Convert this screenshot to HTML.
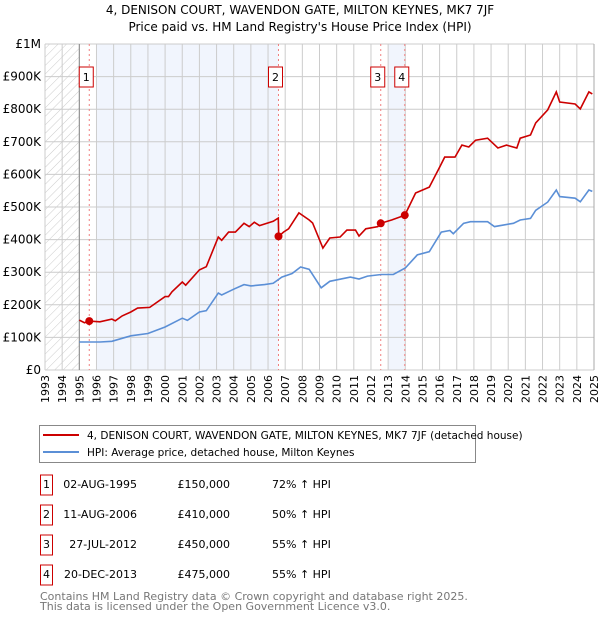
<!DOCTYPE html>
<html><head><meta charset="utf-8"><style>
body{margin:0;background:#fff;font-family:"Liberation Sans","DejaVu Sans",sans-serif;}
svg text{font-family:"DejaVu Sans","Liberation Sans",sans-serif;}
</style></head><body>
<svg id="chart" width="600" height="620" xmlns="http://www.w3.org/2000/svg">
<defs><pattern id="hatch" width="6" height="6" patternUnits="userSpaceOnUse" patternTransform="rotate(45)"><line x1="0" y1="0" x2="0" y2="6" stroke="#ccc" stroke-width="1"/></pattern></defs>
<text x="300" y="14" text-anchor="middle" font-size="12">4, DENISON COURT, WAVENDON GATE, MILTON KEYNES, MK7 7JF</text>
<text x="300" y="31" text-anchor="middle" font-size="12">Price paid vs. HM Land Registry's House Price Index (HPI)</text>
<g id="plot"></g>
<g>
<rect x="39.5" y="425.5" width="436" height="37" fill="#fff" stroke="#888"/>
<line x1="43" y1="435" x2="79" y2="435" stroke="#cc0000" stroke-width="2"/>
<text x="87" y="439" font-size="10.5">4, DENISON COURT, WAVENDON GATE, MILTON KEYNES, MK7 7JF (detached house)</text>
<line x1="43" y1="452" x2="79" y2="452" stroke="#5b8fd6" stroke-width="2"/>
<text x="87" y="456" font-size="10.5">HPI: Average price, detached house, Milton Keynes</text>
</g>
<g id="table" font-size="11"></g>
<text x="40" y="600" font-size="11" fill="#777">Contains HM Land Registry data © Crown copyright and database right 2025.</text>
<text x="40" y="610" font-size="11" fill="#777">This data is licensed under the Open Government Licence v3.0.</text>
</svg>
<script>
const redYears=[1995,1995.3,1995.58,1996.2,1996.9,1997.1,1997.5,1998,1998.4,1999.1,2000,2000.2,2000.4,2001,2001.2,2002,2002.4,2003.1,2003.3,2003.7,2004.1,2004.6,2004.9,2005.2,2005.5,2006.3,2006.6,2006.62,2006.9,2007.2,2007.8,2008.4,2008.6,2009.2,2009.6,2010.2,2010.6,2011.1,2011.3,2011.7,2012.4,2012.57,2013.2,2013.97,2014.6,2015.4,2016,2016.3,2016.9,2017.3,2017.7,2018.1,2018.8,2019.4,2019.9,2020.5,2020.7,2021.3,2021.6,2022.3,2022.8,2023.0,2023.9,2024.2,2024.7,2024.9];
const redValues=[153,145,150,148,156,151,166,178,190,192,225,225,240,270,260,307,317,408,398,423,423,450,440,453,443,456,466,410,423,433,482,460,451,374,405,408,429,429,411,433,440,450,460,475,543,561,622,653,653,690,684,705,711,681,690,681,711,721,758,798,853,822,816,801,853,847];
const hpiYears=[1995,1996.2,1996.9,1998,1999,2000,2001,2001.3,2002,2002.4,2003.1,2003.3,2004,2004.6,2005,2005.8,2006.3,2006.8,2007.4,2007.9,2008.4,2009.1,2009.6,2010.8,2011.3,2011.8,2012.6,2013.3,2014,2014.7,2015.4,2016.1,2016.6,2016.8,2017.4,2017.8,2018.8,2019.2,2020.3,2020.7,2021.3,2021.6,2022.3,2022.8,2023.0,2023.9,2024.2,2024.7,2024.9];
const hpiValues=[86,86,88,105,112,132,159,152,178,182,236,230,248,262,258,262,266,285,296,316,309,252,272,285,279,288,293,293,313,353,363,423,428,418,450,455,455,440,450,460,465,490,515,552,532,527,516,552,548];
const saleNums=["1","2","3","4"];
const saleYears=[1995.58,2006.61,2012.57,2013.97];
const saleValues=[150,410,450,475];
const saleDates=["02-AUG-1995","11-AUG-2006","27-JUL-2012","20-DEC-2013"];
const salePrices=["£150,000","£410,000","£450,000","£475,000"];
const saleHpi=["72% ↑ HPI","50% ↑ HPI","55% ↑ HPI","55% ↑ HPI"];
const yTicks=[0,100,200,300,400,500,600,700,800,900,1000];
const yTickLabels=["£0","£100K","£200K","£300K","£400K","£500K","£600K","£700K","£800K","£900K","£1M"];
const xTicks=[1993,1994,1995,1996,1997,1998,1999,2000,2001,2002,2003,2004,2005,2006,2007,2008,2009,2010,2011,2012,2013,2014,2015,2016,2017,2018,2019,2020,2021,2022,2023,2024,2025];

const L=45,R=594,T=44,B=370,X0=1993,X1=2025;
const x=v=>L+(v-X0)/(X1-X0)*(R-L);
const y=v=>B-v/1000*(B-T);
const NS="http://www.w3.org/2000/svg";
const plot=document.getElementById('plot');
function mk(tag,attrs,parent){const e=document.createElementNS(NS,tag);for(const k in attrs)e.setAttribute(k,attrs[k]);(parent||plot).appendChild(e);return e;}

let e;
e=mk('rect',{x:x(1993),y:T,width:x(1995)-x(1993),height:B-T,fill:'url(#hatch)'});


e=mk('rect',{x:x(1996),y:T,width:x(saleYears[1])-x(1996),height:B-T,fill:'#f1f5fd'});


e=mk('rect',{x:x(2013),y:T,width:x(saleYears[3])-x(2013),height:B-T,fill:'#f1f5fd'});



xTicks.forEach(t=>{
 e=mk('line',{x1:x(t),x2:x(t),y1:T,y2:B,stroke:'#ccc','stroke-width':1});
 
 
 e=mk('text',{x:0,y:0,transform:`translate(${x(t)+4},${B+5}) rotate(-90)`,'text-anchor':'end','font-size':11});
 e.textContent=t;
 
 
});
yTicks.forEach((t,i)=>{
 e=mk('line',{x1:L,x2:R,y1:y(t),y2:y(t),stroke:'#ccc','stroke-width':1});
 
 
 e=mk('text',{x:L-4,y:y(t)+4,'text-anchor':'end','font-size':12});
 e.textContent=yTickLabels[i];
 
 
});
e=mk('line',{x1:x(1995),x2:x(1995),y1:T,y2:B,stroke:'#888'});


e=mk('line',{x1:R,x2:R,y1:T,y2:B,stroke:'#aaa'});



saleYears.forEach((s,i)=>{
 e=mk('line',{x1:x(s),x2:x(s),y1:T,y2:B,stroke:'#f08080','stroke-dasharray':'2,3'});
 
 
});

const pts=(xs,vs)=>xs.map((v,i)=>x(v).toFixed(1)+','+y(vs[i]).toFixed(1)).join(' ');
e=mk('polyline',{points:pts(hpiYears,hpiValues),fill:'none',stroke:'#5b8fd6','stroke-width':1.6});


e=mk('polyline',{points:pts(redYears,redValues),fill:'none',stroke:'#cc0000','stroke-width':1.6});



saleYears.forEach((s,i)=>{
 e=mk('circle',{cx:x(s),cy:y(saleValues[i]),r:4,fill:'#cc0000'});
 
 
 const bx=x(s)-10;
 e=mk('rect',{x:bx,y:67,width:14,height:20,fill:'#fff',stroke:'#cc0000','stroke-width':1});
 
 
 e=mk('text',{x:bx+7,y:81,'text-anchor':'middle','font-size':11});
 e.textContent=saleNums[i];
 
 
});

const tbl=document.getElementById('table');
saleNums.forEach((n,i)=>{
 const ry=492+i*30;
 e=mk('rect',{x:40.5,y:ry-17,width:12,height:20,fill:'#fff',stroke:'#cc0000'},tbl);
 
 
 e=mk('text',{x:46.5,y:ry-4,'text-anchor':'middle'},tbl);e.textContent=n;
 
 
 e=mk('text',{x:137,y:ry-4,'text-anchor':'end'},tbl);e.textContent=saleDates[i];
 
 
 e=mk('text',{x:230,y:ry-4,'text-anchor':'end'},tbl);e.textContent=salePrices[i];
 
 
 e=mk('text',{x:272,y:ry-4},tbl);e.textContent=saleHpi[i];
 
 
});
</script>
</body></html>
